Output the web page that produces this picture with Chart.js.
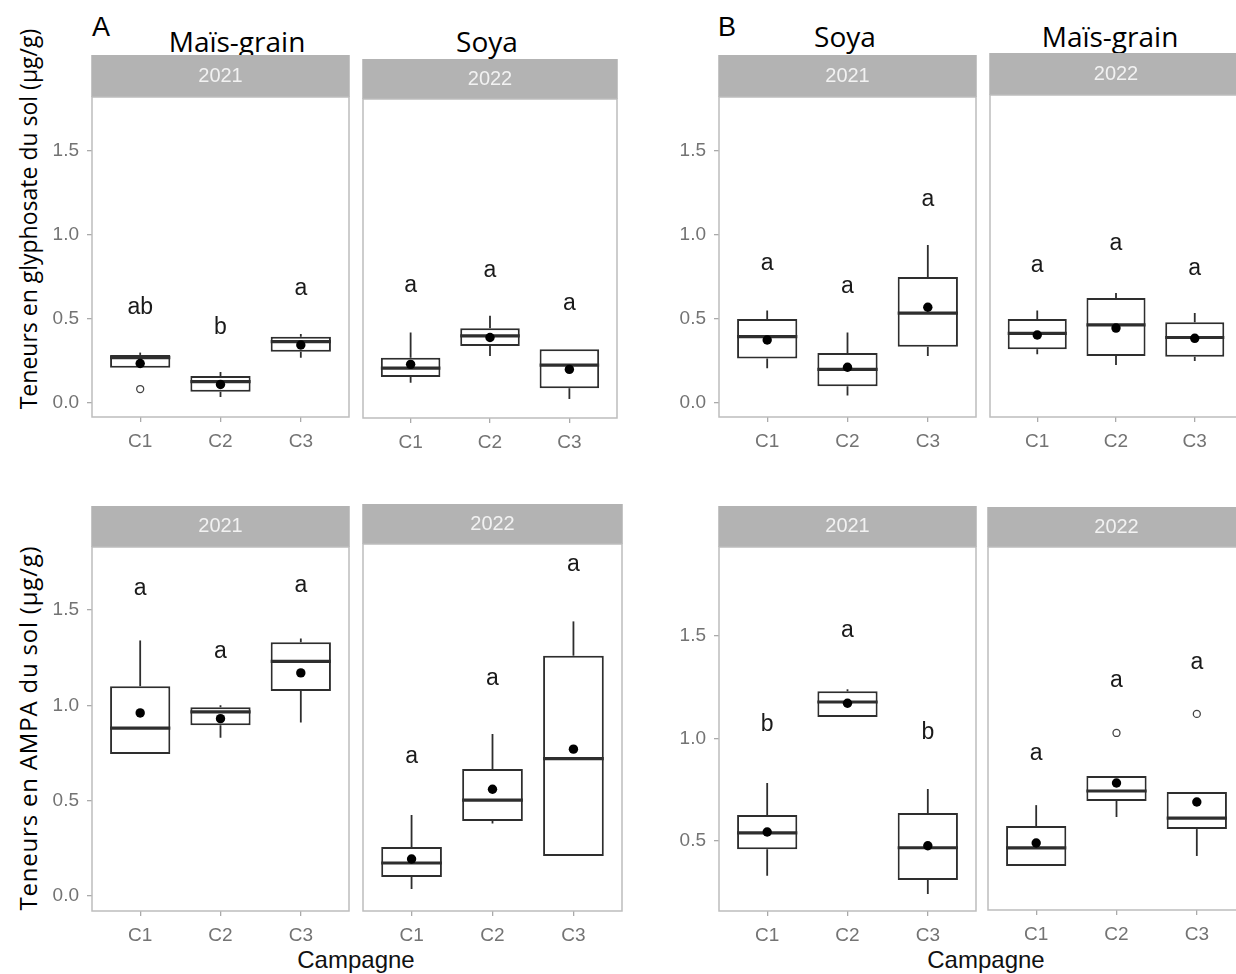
<!DOCTYPE html>
<html>
<head>
<meta charset="utf-8">
<script src="https://cdn.jsdelivr.net/npm/chart.js@4.4.1/dist/chart.umd.min.js"></script>
<style>
    html, body { margin: 0; padding: 0; background: #fff; overflow: hidden; }
    #fig { position: relative; width: 1236px; height: 974px; overflow: hidden; background: #fff; }
    #fig canvas { position: absolute; }
    .txt { position: absolute; white-space: nowrap; line-height: 1; color: #000; }
    .tag { font-family: "Liberation Sans", Arial, sans-serif; font-size: 27px; }
    .col { font-family: "Open Sans", sans-serif; font-size: 28px; transform: translateX(-50%); }
    .ytitle { font-family: "Open Sans", sans-serif; font-size: 23px; transform: translate(-50%, -50%) rotate(-90deg); }
    .ytitle.ampa { font-size: 24px; letter-spacing: 0.8px; }
    .xtitle { font-family: "Liberation Sans", Arial, sans-serif; font-size: 24px; color: #111; transform: translateX(-50%); }
</style>
</head>
<body>
<div id="fig">
    <div class="txt tag" style="left:92px; top:14px;">A</div>
    <div class="txt tag" style="left:718px; top:14px;">B</div>
    <div class="txt col" style="left:237px; top:27px;">Maïs-grain</div>
    <div class="txt col" style="left:487px; top:27px;">Soya</div>
    <div class="txt col" style="left:845px; top:22px;">Soya</div>
    <div class="txt col" style="left:1110px; top:22px;">Maïs-grain</div>
    <div class="txt ytitle" style="left:28px; top:219px;">Teneurs en glyphosate du sol (µg/g)</div>
    <div class="txt ytitle ampa" style="left:28px; top:728px;">Teneurs en AMPA du sol (µg/g)</div>
    <div class="txt xtitle" style="left:356px; top:948px;">Campagne</div>
    <div class="txt xtitle" style="left:986px; top:948px;">Campagne</div>
</div>
<script>
const campagnes = ['C1', 'C2', 'C3'];
const years = ['2021', '2022'];
const yTicksA = [0, 0.5, 1.0, 1.5];
const yTicksB = [0.5, 1.0, 1.5];

// boxes per campagne: [whisker low, Q1, median, Q3, whisker high]
// A - glyphosate, 2021 maïs-grain
const glyA21Box = [[0.21, 0.21, 0.27, 0.286, 0.30], [0.035, 0.067, 0.127, 0.16, 0.185], [0.27, 0.305, 0.365, 0.395, 0.41]];
const glyA21Mean = [0.235, 0.11, 0.345];
const glyA21Out = [[0.083], [], []];
const glyA21Lett = ['ab', 'b', 'a'];
const glyA21LettY = [0.57, 0.45, 0.68];

// A - glyphosate, 2022 soya
const glyA22Box = [[0.12, 0.155, 0.208, 0.27, 0.42], [0.28, 0.34, 0.40, 0.445, 0.52], [0.024, 0.088, 0.225, 0.32, 0.32]];
const glyA22Mean = [0.23, 0.39, 0.20];
const glyA22Out = [[], [], []];
const glyA22Lett = ['a', 'a', 'a'];
const glyA22LettY = [0.70, 0.79, 0.59];

// B - glyphosate, 2021 soya
const glyB21Box = [[0.207, 0.265, 0.395, 0.50, 0.55], [0.045, 0.10, 0.20, 0.297, 0.42], [0.28, 0.335, 0.535, 0.75, 0.94]];
const glyB21Mean = [0.375, 0.213, 0.57];
const glyB21Out = [[], [], []];
const glyB21Lett = ['a', 'a', 'a'];
const glyB21LettY = [0.83, 0.69, 1.21];

// B - glyphosate, 2022 maïs-grain
const glyB22Box = [[0.29, 0.32, 0.415, 0.50, 0.55], [0.226, 0.28, 0.465, 0.625, 0.655], [0.25, 0.275, 0.39, 0.48, 0.535]];
const glyB22Mean = [0.405, 0.446, 0.385];
const glyB22Out = [[], [], []];
const glyB22Lett = ['a', 'a', 'a'];
const glyB22LettY = [0.82, 0.95, 0.80];

// A - AMPA, 2021 maïs-grain
const ampA21Box = [[0.745, 0.745, 0.88, 1.10, 1.34], [0.83, 0.895, 0.965, 0.99, 1.0], [0.91, 1.075, 1.23, 1.33, 1.35]];
const ampA21Mean = [0.96, 0.93, 1.17];
const ampA21Out = [[], [], []];
const ampA21Lett = ['a', 'a', 'a'];
const ampA21LettY = [1.61, 1.28, 1.63];

// A - AMPA, 2022 soya
const ampA22Box = [[0.037, 0.10, 0.173, 0.257, 0.425], [0.38, 0.393, 0.503, 0.666, 0.85], [0.21, 0.21, 0.72, 1.26, 1.44]];
const ampA22Mean = [0.194, 0.56, 0.77];
const ampA22Out = [[], [], []];
const ampA22Lett = ['a', 'a', 'a'];
const ampA22LettY = [0.73, 1.14, 1.74];

// B - AMPA, 2021 soya
const ampB21Box = [[0.33, 0.46, 0.54, 0.627, 0.783], [1.105, 1.105, 1.178, 1.23, 1.24], [0.242, 0.31, 0.467, 0.637, 0.754]];
const ampB21Mean = [0.544, 1.172, 0.477];
const ampB21Out = [[], [], []];
const ampB21Lett = ['b', 'a', 'b'];
const ampB21LettY = [1.066, 1.525, 1.03];

// B - AMPA, 2022 maïs-grain
const ampB22Box = [[0.378, 0.378, 0.466, 0.573, 0.675], [0.617, 0.695, 0.744, 0.817, 0.817], [0.427, 0.558, 0.612, 0.739, 0.739]];
const ampB22Mean = [0.49, 0.783, 0.69];
const ampB22Out = [[], [1.027], [1.12]];
const ampB22Lett = ['a', 'a', 'a'];
const ampB22LettY = [0.925, 1.28, 1.37];

const boxColor = '#2e2e2e';
const frameColor = '#bdbdbd';
const stripColor = '#b3b3b3';

// panel frames on the page (zero / ppu = pixel of value 0 and pixels per unit)
const panels = [
    { box: glyA21Box, mean: glyA21Mean, out: glyA21Out, lett: glyA21Lett, lettY: glyA21LettY, strip: years[0], yTicks: yTicksA,
      left: 92, right: 349, stripTop: 55, plotTop: 97, plotBottom: 417, yAxisW: 52, zero: 403, ppu: 168 },
    { box: glyA22Box, mean: glyA22Mean, out: glyA22Out, lett: glyA22Lett, lettY: glyA22LettY, strip: years[1], yTicks: yTicksA,
      left: 363, right: 617, stripTop: 59, plotTop: 99, plotBottom: 418, yAxisW: 0, zero: 403, ppu: 168 },
    { box: glyB21Box, mean: glyB21Mean, out: glyB21Out, lett: glyB21Lett, lettY: glyB21LettY, strip: years[0], yTicks: yTicksA,
      left: 719, right: 976, stripTop: 55, plotTop: 97, plotBottom: 417, yAxisW: 54, zero: 403, ppu: 168 },
    { box: glyB22Box, mean: glyB22Mean, out: glyB22Out, lett: glyB22Lett, lettY: glyB22LettY, strip: years[1], yTicks: yTicksA,
      left: 990, right: 1242, stripTop: 53, plotTop: 95, plotBottom: 417, yAxisW: 0, zero: 403, ppu: 168 },
    { box: ampA21Box, mean: ampA21Mean, out: ampA21Out, lett: ampA21Lett, lettY: ampA21LettY, strip: years[0], yTicks: yTicksA,
      left: 92, right: 349, stripTop: 506, plotTop: 547, plotBottom: 911, yAxisW: 52, zero: 896, ppu: 190.7 },
    { box: ampA22Box, mean: ampA22Mean, out: ampA22Out, lett: ampA22Lett, lettY: ampA22LettY, strip: years[1], yTicks: yTicksA,
      left: 363, right: 622, stripTop: 504, plotTop: 544, plotBottom: 911, yAxisW: 0, zero: 896, ppu: 190.7 },
    { box: ampB21Box, mean: ampB21Mean, out: ampB21Out, lett: ampB21Lett, lettY: ampB21LettY, strip: years[0], yTicks: yTicksB,
      left: 719, right: 976, stripTop: 506, plotTop: 547, plotBottom: 911, yAxisW: 54, zero: 943.5, ppu: 205 },
    { box: ampB22Box, mean: ampB22Mean, out: ampB22Out, lett: ampB22Lett, lettY: ampB22LettY, strip: years[1], yTicks: yTicksB,
      left: 988, right: 1245, stripTop: 507, plotTop: 547, plotBottom: 910, yAxisW: 0, zero: 943.5, ppu: 205 }
];

const boxExtras = {
    id: 'boxExtras',
    beforeDatasetsDraw(chart, args, opts) {
        // whiskers
        let ctx = chart.ctx, x = chart.scales.x, y = chart.scales.y;
        ctx.save();
        ctx.strokeStyle = boxColor;
        ctx.lineWidth = 1.8;
        opts.box.forEach((b, i) => {
            let px = x.getPixelForValue(i + 1);
            ctx.beginPath();
            ctx.moveTo(px, y.getPixelForValue(b[0]));
            ctx.lineTo(px, y.getPixelForValue(b[1]));
            ctx.moveTo(px, y.getPixelForValue(b[3]));
            ctx.lineTo(px, y.getPixelForValue(b[4]));
            ctx.stroke();
        });
        ctx.restore();
    },
    afterDatasetDraw(chart, args, opts) {
        if (args.index !== 0) return;
        // median line across each box
        let ctx = chart.ctx, y = chart.scales.y;
        ctx.save();
        ctx.strokeStyle = boxColor;
        ctx.lineWidth = 3.2;
        args.meta.data.forEach((bar, i) => {
            let { x, width } = bar.getProps(['x', 'width'], true);
            let py = y.getPixelForValue(opts.box[i][2]);
            ctx.beginPath();
            ctx.moveTo(x - width / 2, py);
            ctx.lineTo(x + width / 2, py);
            ctx.stroke();
        });
        ctx.restore();
    },
    afterDraw(chart, args, opts) {
        let ctx = chart.ctx, a = chart.chartArea, x = chart.scales.x, y = chart.scales.y;
        ctx.save();
        // letters
        ctx.fillStyle = '#1a1a1a';
        ctx.font = '23px "Liberation Sans", Arial, sans-serif';
        ctx.textAlign = 'center';
        ctx.textBaseline = 'middle';
        opts.lett.forEach((t, i) => {
            ctx.fillText(t, x.getPixelForValue(i + 1), y.getPixelForValue(opts.lettY[i]));
        });
        // strip
        ctx.fillStyle = stripColor;
        ctx.fillRect(a.left - 0.75, a.top - opts.stripH, a.right - a.left + 1.5, opts.stripH);
        ctx.fillStyle = '#f2f2f2';
        ctx.font = '20px "Liberation Sans", Arial, sans-serif';
        ctx.fillText(opts.strip, (a.left + a.right) / 2, a.top - opts.stripH / 2);
        // panel frame
        ctx.strokeStyle = frameColor;
        ctx.lineWidth = 1.5;
        ctx.strokeRect(a.left, a.top, a.right - a.left, a.bottom - a.top);
        ctx.restore();
    }
};

function makePanel(p) {
    let fig = document.getElementById('fig');
    let cv = document.createElement('canvas');
    let axisH = 45;
    let w = p.yAxisW + (p.right - p.left) + 2;
    let h = p.plotBottom - p.stripTop + axisH;
    cv.width = w;
    cv.height = h;
    cv.style.left = (p.left - p.yAxisW - 1) + 'px';
    cv.style.top = p.stripTop + 'px';
    cv.style.width = w + 'px';
    cv.style.height = h + 'px';
    fig.appendChild(cv);

    let yMax = (p.zero - p.plotTop) / p.ppu;
    let yMin = (p.zero - p.plotBottom) / p.ppu;

    let outliers = p.out.flatMap((vals, i) => vals.map(v => ({ x: i + 1, y: v })));

    new Chart(cv.getContext('2d'), {
        type: 'bar',
        data: {
            datasets: [{
                type: 'bar',
                data: campagnes.map((c, i) => ({ x: i + 1, y: [p.box[i][1], p.box[i][3]] })),
                backgroundColor: '#ffffff',
                borderColor: boxColor,
                borderWidth: 2,
                borderSkipped: false,
                barPercentage: 0.75,
                categoryPercentage: 1,
                order: 2
            }, {
                type: 'line',
                data: outliers,
                showLine: false,
                pointRadius: 3.5,
                pointBackgroundColor: '#ffffff',
                pointBorderColor: '#444444',
                pointBorderWidth: 1.3,
                order: 1
            }, {
                type: 'line',
                data: campagnes.map((c, i) => ({ x: i + 1, y: p.mean[i] })),
                showLine: false,
                pointRadius: 4.7,
                pointBackgroundColor: '#000000',
                pointBorderColor: '#000000',
                pointBorderWidth: 0,
                order: 0
            }]
        },
        options: {
            responsive: false,
            devicePixelRatio: 1,
            animation: false,
            events: [],
            layout: { autoPadding: false, padding: { left: 1, right: 1, top: p.plotTop - p.stripTop, bottom: 0 } },
            plugins: {
                legend: { display: false },
                tooltip: { enabled: false },
                boxExtras: { box: p.box, lett: p.lett, lettY: p.lettY, strip: p.strip, stripH: p.plotTop - p.stripTop }
            },
            scales: {
                x: {
                    type: 'linear',
                    min: 0.4,
                    max: 3.6,
                    offset: false,
                    afterBuildTicks: axis => { axis.ticks = campagnes.map((c, i) => ({ value: i + 1 })); },
                    afterFit: axis => { axis.height = axisH; },
                    ticks: {
                        callback: v => campagnes[v - 1],
                        color: '#737373',
                        font: { family: '"Liberation Sans", Arial, sans-serif', size: 19 },
                        padding: 8,
                        maxRotation: 0,
                        autoSkip: false
                    },
                    grid: { display: true, offset: false, drawOnChartArea: false, drawTicks: true, tickLength: 5, color: '#aaaaaa', lineWidth: 1.3 },
                    border: { display: false }
                },
                y: {
                    type: 'linear',
                    display: p.yAxisW > 0,
                    min: yMin,
                    max: yMax,
                    afterBuildTicks: axis => { axis.ticks = p.yTicks.map(v => ({ value: v })); },
                    afterFit: axis => { axis.width = p.yAxisW; },
                    ticks: {
                        callback: v => v.toFixed(1),
                        color: '#737373',
                        font: { family: '"Liberation Sans", Arial, sans-serif', size: 19 },
                        padding: 8
                    },
                    grid: { display: true, drawOnChartArea: false, drawTicks: true, tickLength: 5, color: '#aaaaaa', lineWidth: 1.3 },
                    border: { display: false }
                }
            }
        },
        plugins: [boxExtras]
    });
}

panels.forEach(makePanel);
</script>
</body>
</html>
